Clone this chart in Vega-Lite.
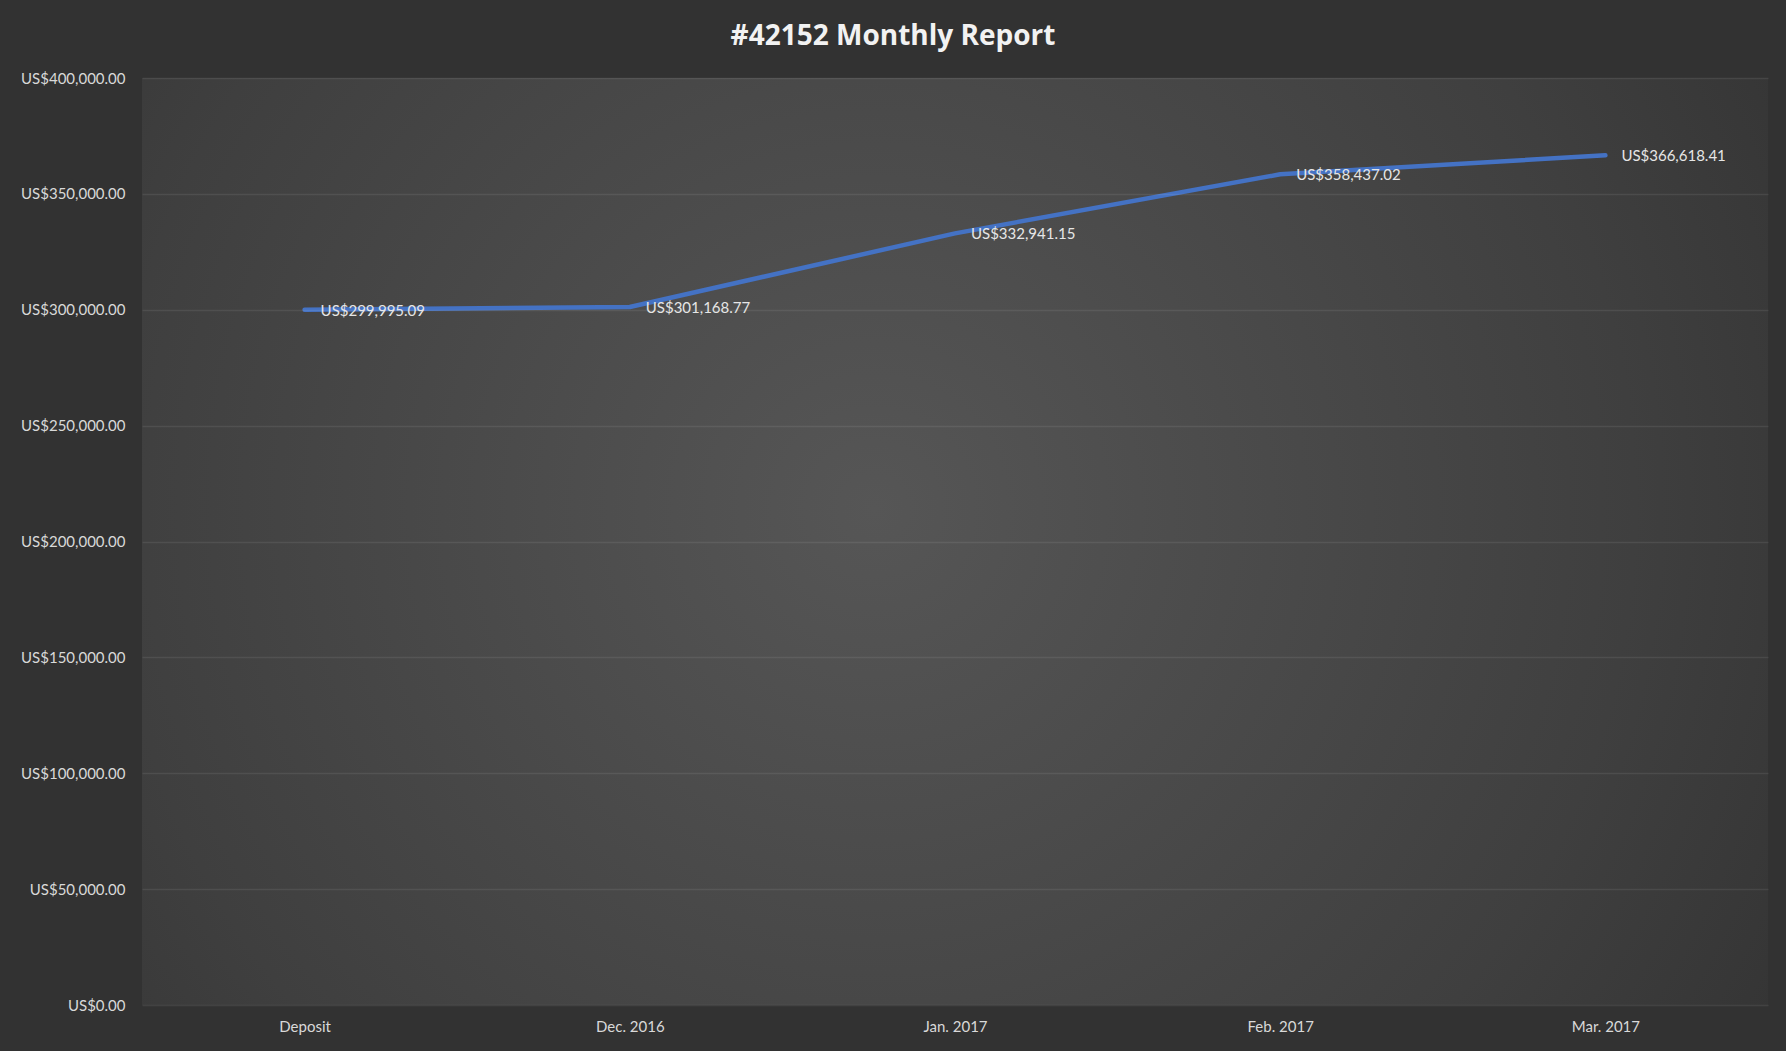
{
  "$schema": "https://vega.github.io/schema/vega-lite/v6.json",
  "autosize": {"type": "none"},
  "width": 1626,
  "height": 927,
  "padding": {"left": 142, "top": 78, "right": 18, "bottom": 46},
  "background": "#323232",
  "title": {
    "text": "#42152 Monthly Report",
    "font": "Open Sans",
    "fontSize": 28,
    "fontWeight": "bold",
    "color": "#f2f2f2",
    "anchor": "middle",
    "frame": "group",
    "dx": -62,
    "dy": 33,
    "baseline": "alphabetic",
    "offset": 31
  },
  "config": {
    "view": {"stroke": null},
    "axis": {
      "labelFont": "Lato",
      "labelFontSize": 15,
      "labelColor": "#d9d9d9",
      "domain": false,
      "ticks": false,
      "grid": false,
      "title": null
    }
  },
  "layer": [
    {
      "data": {"values": [{}]},
      "mark": {
        "type": "rect",
        "fill": {
          "gradient": "radial",
          "x1": 0.45, "y1": 0.48, "r1": 0,
          "x2": 0.45, "y2": 0.48, "r2": 0.78,
          "stops": [
            {"offset": 0, "color": "#565656"},
            {"offset": 0.6, "color": "#3f3f3f"},
            {"offset": 1, "color": "#2c2c2c"}
          ]
        }
      },
      "encoding": {}
    },
    {
      "data": {
        "values": [
          {"period": "Deposit", "value": 299995.09},
          {"period": "Dec. 2016", "value": 301168.77},
          {"period": "Jan. 2017", "value": 332941.15},
          {"period": "Feb. 2017", "value": 358437.02},
          {"period": "Mar. 2017", "value": 366618.41}
        ]
      },
      "encoding": {
        "x": {
          "field": "period",
          "type": "ordinal",
          "sort": null,
          "scale": {"type": "point", "padding": 0.5},
          "axis": {"labelAngle": 0, "labelPadding": 14, "orient": "bottom"}
        },
        "y": {
          "field": "value",
          "type": "quantitative",
          "scale": {"domain": [0, 400000], "nice": false},
          "axis": {
            "values": [0, 50000, 100000, 150000, 200000, 250000, 300000, 350000, 400000],
            "labelExpr": "'US$' + format(datum.value, ',.2f')",
            "labelPadding": 17,
            "grid": true,
            "gridColor": "#ffffff",
            "gridOpacity": 0.08,
            "gridWidth": 1.5,
            "zindex": 1
          }
        }
      },
      "layer": [
        {
          "mark": {"type": "line", "color": "#4472C4", "strokeWidth": 4.5, "strokeCap": "round", "strokeJoin": "round"}
        },
        {
          "mark": {
            "type": "text",
            "align": "left",
            "baseline": "middle",
            "dx": 16,
            "dy": 1,
            "font": "Lato",
            "fontSize": 15,
            "color": "#e6e6e6",
            "text": {"expr": "'US$' + format(datum.value, ',.2f')"}
          }
        }
      ]
    }
  ]
}
